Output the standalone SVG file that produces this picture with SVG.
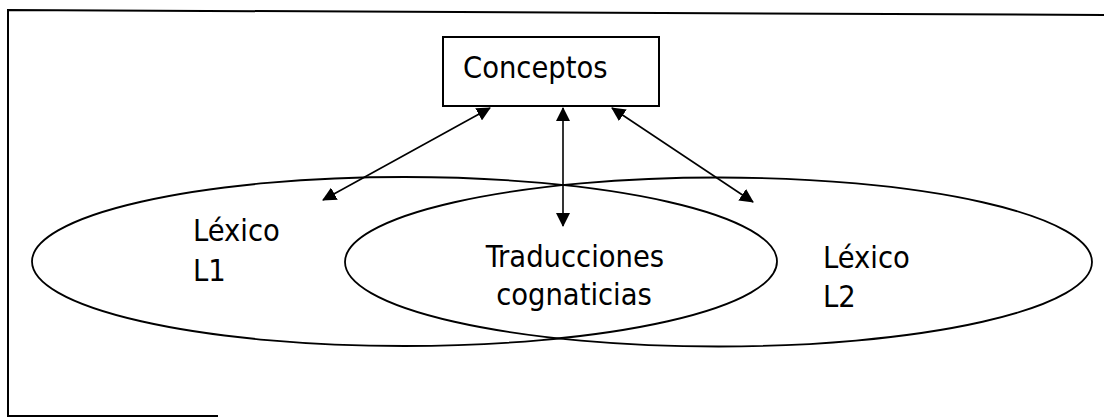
<svg xmlns="http://www.w3.org/2000/svg" width="1104" height="417" viewBox="0 0 1104 417">
  <style>
    .t { font-family: "DejaVu Sans Condensed", "DejaVu Sans", sans-serif; font-stretch: condensed; font-size: 30.5px; fill: #000; }
    .shape { fill: none; stroke: #000; stroke-width: 1.8; }
    .frame { fill: none; stroke: #000; stroke-width: 2; }
    .conn { fill: none; stroke: #000; stroke-width: 1.6; marker-start: url(#ah); marker-end: url(#ah); }
  </style>
  <defs>
    <marker id="ah" viewBox="0 0 14 14" refX="13" refY="7" markerWidth="14" markerHeight="14" markerUnits="userSpaceOnUse" orient="auto-start-reverse">
      <path d="M0,0 L14,7 L0,14 Z" fill="#000"/>
    </marker>
  </defs>
  <rect width="1104" height="417" fill="#fff"/>
  <g id="frame">
    <path class="frame" d="M1104,15 L8,10 L8,416 L218,416"/>
  </g>
  <g id="lexico-l1">
    <ellipse class="shape" cx="404.5" cy="261.5" rx="372.5" ry="84.5"/>
    <text class="t" x="193" y="241">Léxico</text>
    <text class="t" x="193" y="281">L1</text>
  </g>
  <g id="lexico-l2">
    <ellipse class="shape" cx="718.5" cy="262" rx="373.5" ry="84.5"/>
    <text class="t" x="823" y="268">Léxico</text>
    <text class="t" x="823" y="307">L2</text>
  </g>
  <g id="traducciones">
    <text class="t" x="575" y="267" text-anchor="middle">Traducciones</text>
    <text class="t" x="574" y="305" text-anchor="middle">cognaticias</text>
  </g>
  <g id="conceptos">
    <rect class="frame" x="443" y="37" width="216" height="69" fill="#fff"/>
    <text class="t" x="463" y="78">Conceptos</text>
  </g>
  <g id="connectors">
    <line class="conn" x1="490" y1="108" x2="323" y2="200"/>
    <line class="conn" x1="563" y1="108" x2="563" y2="226"/>
    <line class="conn" x1="612" y1="108" x2="753" y2="202"/>
  </g>
</svg>
